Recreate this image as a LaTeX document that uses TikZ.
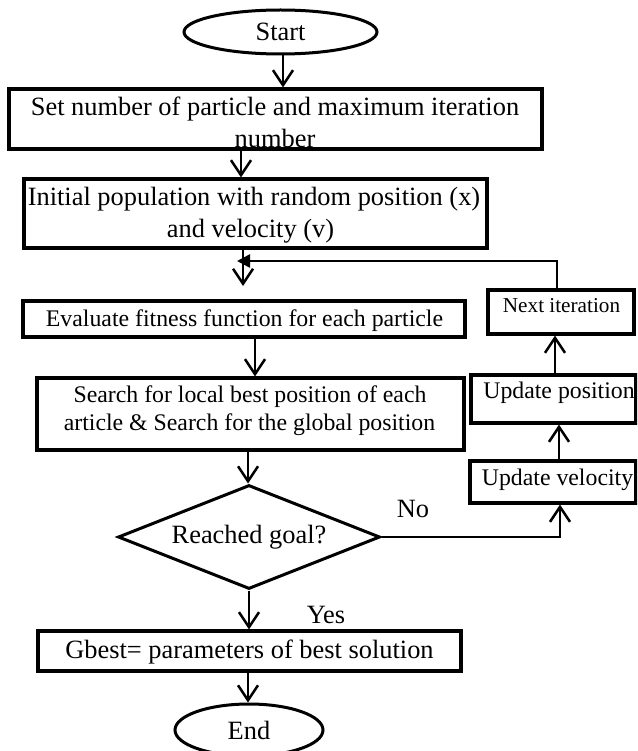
\documentclass[tikz,border=0pt]{standalone}
\usepackage{fontspec}
\setmainfont{Liberation Serif}
\usetikzlibrary{shapes.geometric,arrows.meta,calc}
\newcommand\fsA{\fontsize{26.4}{32}\selectfont}
\newcommand\fsB{\fontsize{23.8}{28}\selectfont}
\newcommand\fsC{\fontsize{21.2}{25}\selectfont}
\tikzset{
  box/.style={draw, rectangle, line width=3.2pt, inner sep=0pt},
  term/.style={draw, ellipse, line width=3pt, inner sep=0pt, font=\fsA},
  dec/.style={draw, diamond, line width=3pt, inner sep=0pt, shape aspect=2.52, font=\fsA},
  tA/.style={anchor=base, inner sep=0pt, font=\fsA},
  tB/.style={anchor=base, inner sep=0pt, font=\fsB},
  tC/.style={anchor=base, inner sep=0pt, font=\fsC},
  arr/.style={line width=2.5pt, -{Straight Barb[length=15pt,width=20pt]}},
  back/.style={line width=2.5pt, -{Triangle[length=13pt,width=13pt]}}
}
\begin{document}
\begin{tikzpicture}[x=1pt,y=-1pt]
\path[use as bounding box] (0,0) rectangle (637,751);
\clip (0,0) rectangle (637,751);
% terminals and decision
\node[term, minimum width=193pt, minimum height=44pt] (start) at (280.5,32) {Start};
\node[term, minimum width=148pt, minimum height=52pt] (end) at (249,730) {End};
\node[dec, minimum width=262pt, minimum height=104pt] (dia) at (249,537) {Reached goal?};
% boxes
\node[box, minimum width=533pt, minimum height=60pt] (box1) at (275.5,119) {};
\node[box, minimum width=463pt, minimum height=69pt] (box2) at (255.5,213.5) {};
\node[box, minimum width=442pt, minimum height=36pt] (box3) at (244,319) {};
\node[box, minimum width=427pt, minimum height=72pt] (box4) at (250.5,414) {};
\node[box, minimum width=423pt, minimum height=40pt] (box6) at (249.5,651) {};
\node[box, minimum width=146pt, minimum height=44pt] (next) at (561,312) {};
\node[box, minimum width=165pt, minimum height=48pt] (pos) at (553.5,399) {};
\node[box, minimum width=166pt, minimum height=42pt] (vel) at (553,482) {};
% texts
\node[tA] (t1a) at (275,116) {Set number of particle and maximum iteration};
\node[tA] (t1b) at (275,148) {number};
\node[tA] (t2a) at (254,205) {Initial population with random position (x)};
\node[tA] (t2b) at (250.5,237) {and velocity (v)};
\node[tB] (t3) at (244.5,326) {Evaluate fitness function for each particle};
\node[tB] (t4a) at (250,402) {Search for local best position of each};
\node[tB] (t4b) at (249.5,430) {article \& Search for the global position};
\node[tA] (t6) at (249.5,658) {Gbest= parameters of best solution};
\node[tC] (t7) at (561.5,312) {Next iteration};
\node[tB] (t8) at (559,398) {Update position};
\node[tB] (t9) at (557.5,485) {Update velocity};
\node[tA] (no) at (413,517) {No};
\node[tA] (yes) at (326,623) {Yes};
% connectors
\coordinate (c1) at (243,286);
\coordinate (c2) at (237,261);
\draw[arr] ([xshift=2.5pt]start.south) -- ([xshift=7.5pt]box1.north);
\draw[arr] ([xshift=-34.5pt]box1.south) -- ([xshift=-14.5pt]box2.north);
\draw[arr] ([xshift=-12.5pt]box2.south) -- (c1);
\draw[back] ([xshift=-4pt]next.north) |- (c2);
\draw[arr] ([xshift=11pt]box3.south) -- ([xshift=4.5pt]box4.north);
\draw[arr] ([xshift=-2.5pt]box4.south) -- ([xshift=-1pt]dia.north);
\draw[arr] (dia.east) -| ([xshift=7pt]vel.south);
\draw[arr] ([xshift=6pt]vel.north) -- ([xshift=5.5pt]pos.south);
\draw[arr] ([xshift=1.5pt]pos.north) -- ([xshift=-6pt]next.south);
\draw[arr] (dia.south) -- ([xshift=-0.5pt]box6.north);
\draw[arr] ([xshift=-1.5pt]box6.south) -- ([xshift=-1pt]end.north);
\end{tikzpicture}
\end{document}
